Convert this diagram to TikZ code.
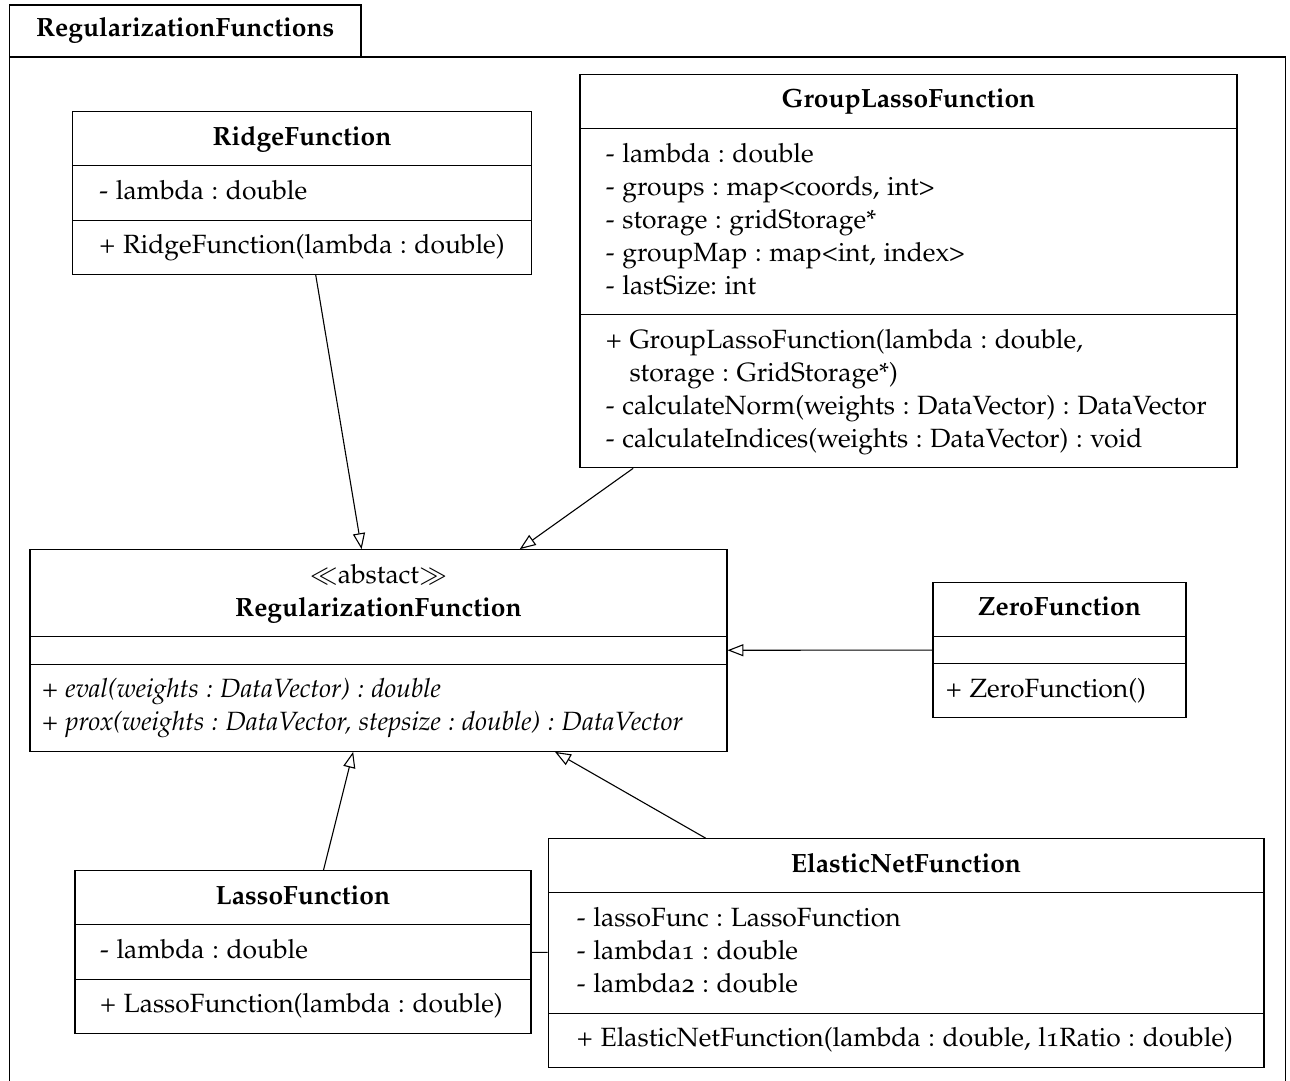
\documentclass[tikz,border=0pt]{standalone}
\usepackage[T1]{fontenc}
\usepackage[osf]{mathpazo}
\usetikzlibrary{arrows.meta, shapes.multipart}
\frenchspacing

\begin{document}
\begin{tikzpicture}[x=0.3636pt, y=-0.3636pt,
    umlclass/.style={rectangle split, rectangle split parts=3, rectangle split ignore empty parts=false, rectangle split part align={center,left,left}, draw, fill=white, align=left, inner ysep=3.65pt, font=\fontsize{9.6}{12}\selectfont},
    pkgbody/.style={rectangle, draw, minimum width=463.8pt, minimum height=375.6pt},
    pkgtab/.style={rectangle, draw, fill=white, minimum width=127.8pt, minimum height=18.9pt, inner sep=0pt, font=\fontsize{9.6}{12}\selectfont\bfseries},
    inherit/.style={-{Triangle[open, length=5.8pt, width=4.4pt]}, draw=black},
    assoc/.style={-, draw=black}
]
    \useasboundingbox (0,0) rectangle (1290,1080);

    % Package
    \node (pkg) [pkgbody] at (647.25,573.5) {};
    \node (pkgname) [pkgtab] at (185.25,31) {RegularizationFunctions};

    % Classes
    \node (ridge) [umlclass, minimum width=166.5pt, inner xsep=9.6pt] at (302,193) {\strut\textbf{RidgeFunction}
        \nodepart{two}\strut - lambda : double
        \nodepart{three}\strut + RidgeFunction(lambda : double)};
    \node (grouplasso) [umlclass, minimum width=238.9pt, inner xsep=9.4pt] at (908.5,271) {\strut\textbf{GroupLassoFunction}
        \nodepart{two}\strut - lambda : double\\
        \strut - groups : map<coords, int>\\
        \strut - storage : gridStorage*\\
        \strut - groupMap : map<int, index>\\
        \strut - lastSize: int
        \nodepart{three}\strut + GroupLassoFunction(lambda : double,\\
        \strut\phantom{+\ }storage : GridStorage*)\\
        \strut - calculateNorm(weights : DataVector) : DataVector\\
        \strut - calculateIndices(weights : DataVector) : void};
    \node (regfn) [umlclass, minimum width=253.4pt, inner xsep=4.4pt] at (378.5,650.5) {\begin{tabular}{@{}c@{}}$\ll$abstact$\gg$\\\textbf{RegularizationFunction}\end{tabular}
        \nodepart{two}\rule{0pt}{2.2pt}
        \nodepart{three}\strut\textit{+ eval(weights : DataVector) : double}\\
        \strut\textit{+ prox(weights : DataVector, stepsize : double) : DataVector}};
    \node (zero) [umlclass, minimum width=92pt, inner xsep=4.7pt] at (1059.5,650) {\strut\textbf{ZeroFunction}
        \nodepart{two}\rule{0pt}{2.2pt}
        \nodepart{three}\strut + ZeroFunction()};
    \node (lasso) [umlclass, minimum width=165.8pt, inner xsep=9.1pt] at (303,952) {\strut\textbf{LassoFunction}
        \nodepart{two}\strut - lambda : double
        \nodepart{three}\strut + LassoFunction(lambda : double)};
    \node (elasticnet) [umlclass, minimum width=260.3pt, inner xsep=10.5pt] at (906,953) {\strut\textbf{ElasticNetFunction}
        \nodepart{two}\strut - lassoFunc : LassoFunction\\
        \strut - lambda1 : double\\
        \strut - lambda2 : double
        \nodepart{three}\strut + ElasticNetFunction(lambda : double, l1Ratio : double)};

    % Inheritance
    \draw [inherit] (ridge) -- (regfn);
    \draw [inherit] (grouplasso) -- (regfn);
    \draw [inherit] (zero) -- (regfn);
    \draw [inherit] (lasso) -- (regfn);
    \draw [inherit] (elasticnet) -- (regfn);

    % Association
    \draw [assoc] (lasso) -- (elasticnet);
\end{tikzpicture}
\end{document}
